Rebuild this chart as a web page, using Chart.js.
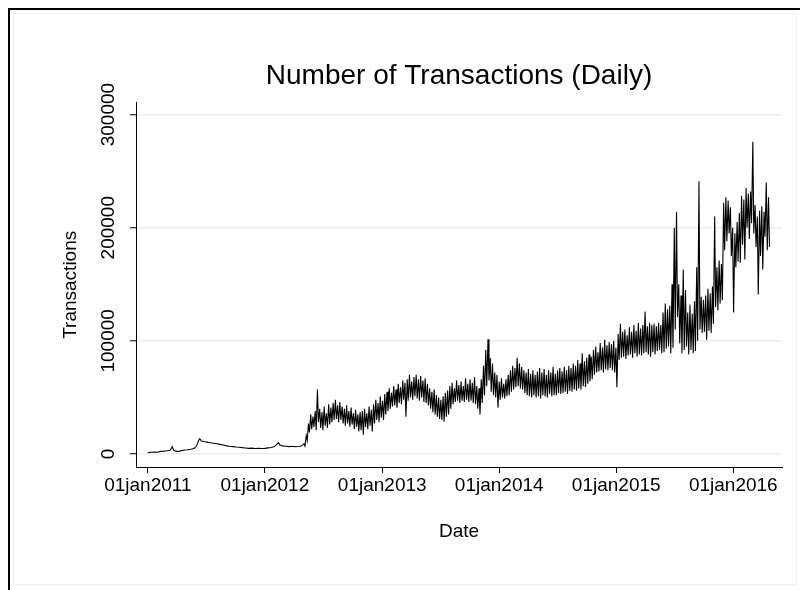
<!DOCTYPE html>
<html>
<head>
<meta charset="utf-8">
<title>Number of Transactions (Daily)</title>
<script src="https://cdn.jsdelivr.net/npm/chart.js@4.4.0/dist/chart.umd.min.js"></script>
<style>
	html, body { margin: 0; padding: 0; background: #fff; }
	#frame { position: absolute; left: 8px; top: 8px; width: 820px; height: 620px; border-left: 2px solid #000; border-top: 2px solid #000; }
	#inner { position: absolute; left: 13px; top: 13px; width: 782px; height: 570px; border: 1px solid #eef2f4; }
	#chart { position: absolute; left: 0; top: 0; }
</style>
</head>
<body>
<div id="frame"></div>
<div id="inner"></div>
<canvas id="chart" width="800" height="590"></canvas>
<script>
// days are counted from 01jan2011
const yearStarts = [0, 365, 731, 1096, 1461, 1826];
const yearLabels = ['01jan2011', '01jan2012', '01jan2013', '01jan2014', '01jan2015', '01jan2016'];
const yTicks = [0, 100000, 200000, 300000];

// before the jump in spring 2012 the series is smooth
const earlyDays = [0, 10, 20, 30, 40, 50, 60, 70, 76, 80, 87, 95, 105, 115, 125, 135, 145, 152, 158, 162,
	167, 175, 185, 195, 205, 215, 225, 235, 245, 255, 265, 275, 285, 295, 305, 315, 325, 335, 345, 355,
	365, 375, 385, 395, 402, 407, 412, 420, 430, 440, 450, 460, 470, 478];
const earlyValues = [1200, 1500, 1800, 1600, 2300, 2500, 2800, 3200, 6500, 3500, 2500, 2200, 3000, 3500, 3800, 4200, 5000, 7000, 12000, 13500,
	11500, 11000, 10500, 10000, 9500, 9000, 8500, 8000, 7200, 6800, 6500, 6200, 6000, 5600, 5300, 5000, 5200, 4900, 5100, 4800,
	5000, 5400, 5800, 6600, 8500, 10000, 8000, 7200, 6900, 6500, 6800, 6400, 6600, 7000];

// from 30apr2012 on: one weekday peak and one weekend low per week
const firstWeekDay = 485;
const weekHigh = [
	9000, 16000, 27000, 35000, 33000, 38000, 57000, 40000, 37000, 42000,
	36000, 44000, 41000, 45000, 48000, 43000, 46000, 42000, 40000, 43000,
	38000, 41000, 36000, 39000, 35000, 37000, 38000, 40000, 36000, 42000,
	39000, 44000, 48000, 45000, 51000, 47000, 53000, 55000, 58000, 54000,
	60000, 57000, 62000, 59000, 65000, 63000, 66000, 70000, 64000, 68000,
	70000, 66000, 69000, 65000, 67000, 62000, 58000, 55000, 57000, 52000,
	50000, 48000, 51000, 54000, 56000, 60000, 63000, 58000, 65000, 61000,
	64000, 60000, 67000, 62000, 66000, 63000, 68000, 60000, 58000, 66000,
	78000, 92000, 101500, 85000, 80000, 72000, 70000, 64000, 67000, 62000,
	66000, 70000, 74000, 78000, 76000, 85000, 80000, 77000, 74000, 72000,
	75000, 71000, 74000, 70000, 73000, 76000, 72000, 75000, 70000, 74000,
	72000, 77000, 71000, 74000, 76000, 73000, 77000, 74000, 78000, 76000,
	80000, 78000, 83000, 80000, 89000, 82000, 85000, 88000, 86000, 92000,
	95000, 90000, 98000, 94000, 101000, 96000, 99000, 97000, 100000, 94000,
	106000, 115000, 108000, 110000, 105000, 112000, 108000, 114000, 109000, 116000,
	111000, 114000, 126000, 113000, 116000, 114000, 115000, 113000, 116000, 114000,
	125000, 133000, 128000, 131000, 150000, 200000, 214000, 150000, 140000, 163000,
	145000, 125000, 132000, 124000, 135000, 165000, 241000, 139000, 136000, 140000,
	146000, 142000, 148000, 210000, 165000, 171000, 168000, 222000, 227000, 224000,
	218000, 200000, 195000, 205000, 213000, 228000, 225000, 235000, 230000, 232000,
	276000, 220000, 210000, 215000, 219000, 214000, 240000, 227000
];
const weekLow = [
	7000, 12000, 19000, 22000, 24000, 21000, 28000, 23000, 21000, 25000,
	23000, 26000, 28000, 30000, 31000, 28000, 30000, 27000, 25000, 27000,
	24000, 26000, 22000, 24000, 20000, 21000, 17000, 24000, 22000, 25000,
	20000, 27000, 30000, 28000, 32000, 30000, 35000, 38000, 40000, 42000,
	43000, 41000, 45000, 44000, 48000, 33000, 47000, 50000, 48000, 51000,
	49000, 47000, 50000, 46000, 45000, 43000, 40000, 37000, 35000, 33000,
	31000, 30000, 28500, 33000, 35000, 40000, 44000, 46000, 47000, 45000,
	47000, 46000, 48000, 46000, 47000, 45000, 44000, 40000, 35000, 45000,
	52000, 60000, 65000, 55000, 52000, 50000, 41000, 48000, 50000, 49000,
	51000, 52000, 55000, 57000, 59000, 60000, 58000, 57000, 54000, 52000,
	51000, 50000, 52000, 50000, 51000, 49000, 52000, 51000, 50000, 53000,
	51000, 52000, 52000, 54000, 53000, 54000, 55000, 53000, 56000, 55000,
	57000, 56000, 58000, 57000, 60000, 59000, 62000, 64000, 66000, 70000,
	72000, 73000, 74000, 72000, 75000, 74000, 76000, 74000, 72000, 59000,
	83000, 85000, 86000, 84000, 87000, 88000, 85000, 89000, 86000, 88000,
	87000, 89000, 90000, 88000, 86000, 90000, 88000, 91000, 92000, 89000,
	90000, 93000, 95000, 89000, 94000, 110000, 121000, 98000, 89000, 92000,
	95000, 88000, 92000, 89000, 91000, 100000, 110000, 107000, 108000, 101000,
	109000, 107000, 115000, 130000, 127000, 133000, 136000, 180000, 188000, 195000,
	175000, 125000, 165000, 170000, 169000, 185000, 172000, 200000, 190000, 204000,
	195000, 183000, 141000, 175000, 163000, 192000, 180000, 183000
];

const points = earlyDays.map((d, i) => ({x: d, y: earlyValues[i]}));
weekHigh.forEach((h, w) => {
	let d = firstWeekDay + 7 * w;
	points.push({x: d + 2, y: h});
	points.push({x: d + 5, y: weekLow[w]});
});

const FONT = "'Liberation Sans', Arial, sans-serif";
Chart.defaults.font.family = FONT;
Chart.defaults.color = '#000';

// y tick labels in this style run upwards along the axis
const yTickLabels = {
	id: 'yTickLabels',
	afterDraw: function(chart) {
		let ctx = chart.ctx;
		let scale = chart.scales.y;
		let x = chart.chartArea.left - 27;
		ctx.save();
		ctx.font = '19px ' + FONT;
		ctx.fillStyle = '#000';
		ctx.textAlign = 'center';
		ctx.textBaseline = 'middle';
		scale.ticks.forEach((t) => {
			ctx.save();
			ctx.translate(x, scale.getPixelForValue(t.value));
			ctx.rotate(-Math.PI / 2);
			ctx.fillText(String(t.value), 0, 0);
			ctx.restore();
		});
		ctx.restore();
	},
};

new Chart(document.getElementById('chart').getContext('2d'), {
	type: 'line',
	data: {
		datasets: [{
			data: points,
			borderColor: '#000',
			borderWidth: 1.1,
			pointRadius: 0,
			tension: 0,
			fill: false,
		}],
	},
	options: {
		responsive: false,
		animation: false,
		layout: {padding: {left: 0, right: 18, top: 0, bottom: 0}},
		plugins: {
			legend: {display: false},
			tooltip: {enabled: false},
			title: {
				display: true,
				text: 'Number of Transactions (Daily)',
				fullSize: false,
				color: '#000',
				font: {size: 28, weight: 'normal'},
				padding: {top: 59, bottom: 10},
			},
		},
		scales: {
			x: {
				type: 'linear',
				min: -37,
				max: 1978,
				afterBuildTicks: (scale) => { scale.ticks = yearStarts.map((v) => ({value: v})); },
				afterFit: (scale) => { scale.height = 123; },
				ticks: {
					autoSkip: false,
					maxRotation: 0,
					minRotation: 0,
					padding: 1,
					font: {size: 19},
					callback: (v, i) => yearLabels[i],
				},
				grid: {drawOnChartArea: false, tickLength: 6, tickColor: '#000', tickWidth: 1},
				border: {color: '#000', width: 1},
				title: {display: true, text: 'Date', font: {size: 19}, padding: {top: 0, bottom: 47}},
			},
			y: {
				min: -11500,
				max: 310600,
				afterBuildTicks: (scale) => { scale.ticks = yTicks.map((v) => ({value: v})); },
				afterFit: (scale) => { scale.width = 136; },
				ticks: {display: false},
				grid: {color: '#e6eef0', lineWidth: 1.5, tickLength: 6, tickColor: '#000', tickWidth: 1},
				border: {color: '#000', width: 1},
				title: {display: true, text: 'Transactions', font: {size: 19}, padding: {top: 59, bottom: 0}},
			},
		},
	},
	plugins: [yTickLabels],
});
</script>
</body>
</html>
